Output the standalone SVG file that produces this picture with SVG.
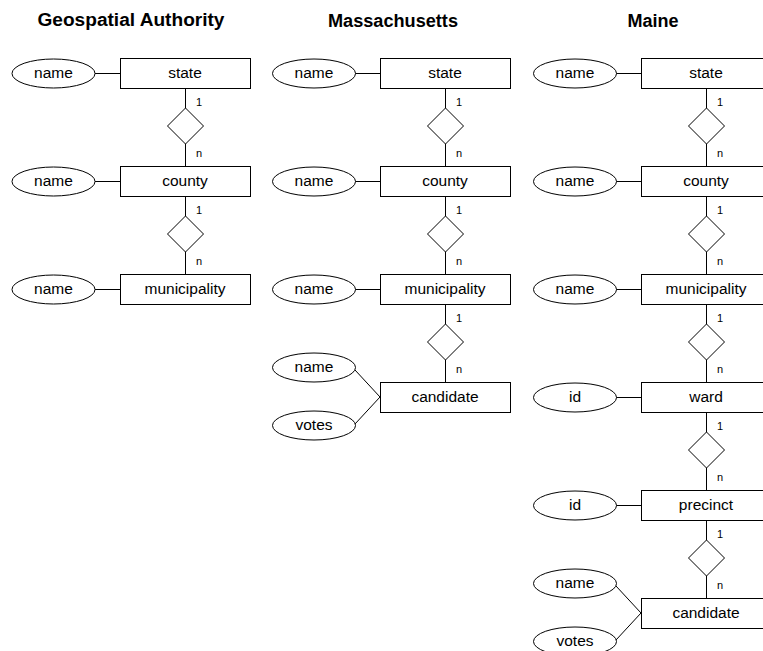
<svg xmlns="http://www.w3.org/2000/svg" width="763" height="651" viewBox="0 0 763 651">
<style>
.ent{fill:#fff;stroke:#000;stroke-width:1}
.att{fill:#fff;stroke:#000;stroke-width:1}
.rel{fill:#fff;stroke:#000;stroke-width:1}
.c{stroke:#000;stroke-width:1;fill:none}
text{font-family:"Liberation Sans",Arial,sans-serif;fill:#000}
.t{font-size:15.5px;text-anchor:middle}
.h{font-size:17.5px;font-weight:bold;text-anchor:middle}
.card{font-size:11px}
</style>
<rect width="763" height="651" fill="#fff"/>
<g id="titles">
<text class="h" x="131" y="26" textLength="187" lengthAdjust="spacingAndGlyphs">Geospatial Authority</text>
<text class="h" x="393" y="27" textLength="130" lengthAdjust="spacingAndGlyphs">Massachusetts</text>
<text class="h" x="653" y="27" textLength="51" lengthAdjust="spacingAndGlyphs">Maine</text>
</g>
<g id="connectors">
<!-- column 1 -->
<line class="c" x1="95" y1="73.5" x2="120" y2="73.5"/>
<line class="c" x1="95" y1="181.5" x2="120" y2="181.5"/>
<line class="c" x1="95" y1="289.5" x2="120" y2="289.5"/>
<line class="c" x1="185.5" y1="88" x2="185.5" y2="108"/>
<line class="c" x1="185.5" y1="144" x2="185.5" y2="166"/>
<line class="c" x1="185.5" y1="196" x2="185.5" y2="216"/>
<line class="c" x1="185.5" y1="252" x2="185.5" y2="274"/>
<!-- column 2 -->
<line class="c" x1="355" y1="73.5" x2="380" y2="73.5"/>
<line class="c" x1="355" y1="181.5" x2="380" y2="181.5"/>
<line class="c" x1="355" y1="289.5" x2="380" y2="289.5"/>
<line class="c" x1="445.5" y1="88" x2="445.5" y2="108"/>
<line class="c" x1="445.5" y1="144" x2="445.5" y2="166"/>
<line class="c" x1="445.5" y1="196" x2="445.5" y2="216"/>
<line class="c" x1="445.5" y1="252" x2="445.5" y2="274"/>
<line class="c" x1="445.5" y1="304" x2="445.5" y2="324"/>
<line class="c" x1="445.5" y1="360" x2="445.5" y2="382"/>
<line class="c" x1="355" y1="370" x2="380" y2="397"/>
<line class="c" x1="355" y1="424" x2="380" y2="397"/>
<!-- column 3 -->
<line class="c" x1="616" y1="73.5" x2="641" y2="73.5"/>
<line class="c" x1="616" y1="181.5" x2="641" y2="181.5"/>
<line class="c" x1="616" y1="289.5" x2="641" y2="289.5"/>
<line class="c" x1="616" y1="397.5" x2="641" y2="397.5"/>
<line class="c" x1="616" y1="505.5" x2="641" y2="505.5"/>
<line class="c" x1="706.5" y1="88" x2="706.5" y2="108"/>
<line class="c" x1="706.5" y1="144" x2="706.5" y2="166"/>
<line class="c" x1="706.5" y1="196" x2="706.5" y2="216"/>
<line class="c" x1="706.5" y1="252" x2="706.5" y2="274"/>
<line class="c" x1="706.5" y1="304" x2="706.5" y2="324"/>
<line class="c" x1="706.5" y1="360" x2="706.5" y2="382"/>
<line class="c" x1="706.5" y1="412" x2="706.5" y2="432"/>
<line class="c" x1="706.5" y1="468" x2="706.5" y2="490"/>
<line class="c" x1="706.5" y1="520" x2="706.5" y2="540"/>
<line class="c" x1="706.5" y1="576" x2="706.5" y2="598"/>
<line class="c" x1="616" y1="586" x2="641" y2="613"/>
<line class="c" x1="616" y1="640" x2="641" y2="613"/>
</g>
<g id="cardinalities">
<text class="card" x="196" y="106">1</text><text class="card" x="196" y="157">n</text>
<text class="card" x="196" y="214">1</text><text class="card" x="196" y="265">n</text>
<text class="card" x="456" y="106">1</text><text class="card" x="456" y="157">n</text>
<text class="card" x="456" y="214">1</text><text class="card" x="456" y="265">n</text>
<text class="card" x="456" y="322">1</text><text class="card" x="456" y="373">n</text>
<text class="card" x="717" y="106">1</text><text class="card" x="717" y="157">n</text>
<text class="card" x="717" y="214">1</text><text class="card" x="717" y="265">n</text>
<text class="card" x="717" y="322">1</text><text class="card" x="717" y="373">n</text>
<text class="card" x="717" y="430">1</text><text class="card" x="717" y="481">n</text>
<text class="card" x="717" y="538">1</text><text class="card" x="717" y="589">n</text>
</g>
<!-- Column 1: Geospatial Authority -->
<g id="ga-state"><rect class="ent" x="120.5" y="58.5" width="130" height="30"/><text class="t" x="185" y="78">state</text></g>
<g id="ga-state-name"><ellipse class="att" cx="53.5" cy="73.5" rx="41.5" ry="14.5"/><text class="t" x="53.5" y="78">name</text></g>
<g id="ga-rel1"><polygon class="rel" points="185.5,108 203.5,126 185.5,144 167.5,126"/></g>
<g id="ga-county"><rect class="ent" x="120.5" y="166.5" width="130" height="30"/><text class="t" x="185" y="186">county</text></g>
<g id="ga-county-name"><ellipse class="att" cx="53.5" cy="181.5" rx="41.5" ry="14.5"/><text class="t" x="53.5" y="186">name</text></g>
<g id="ga-rel2"><polygon class="rel" points="185.5,216 203.5,234 185.5,252 167.5,234"/></g>
<g id="ga-municipality"><rect class="ent" x="120.5" y="274.5" width="130" height="30"/><text class="t" x="185" y="294">municipality</text></g>
<g id="ga-municipality-name"><ellipse class="att" cx="53.5" cy="289.5" rx="41.5" ry="14.5"/><text class="t" x="53.5" y="294">name</text></g>
<!-- Column 2: Massachusetts -->
<g id="ma-state"><rect class="ent" x="380.5" y="58.5" width="130" height="30"/><text class="t" x="445" y="78">state</text></g>
<g id="ma-state-name"><ellipse class="att" cx="314" cy="73.5" rx="41.5" ry="14.5"/><text class="t" x="314" y="78">name</text></g>
<g id="ma-rel1"><polygon class="rel" points="445.5,108 463.5,126 445.5,144 427.5,126"/></g>
<g id="ma-county"><rect class="ent" x="380.5" y="166.5" width="130" height="30"/><text class="t" x="445" y="186">county</text></g>
<g id="ma-county-name"><ellipse class="att" cx="314" cy="181.5" rx="41.5" ry="14.5"/><text class="t" x="314" y="186">name</text></g>
<g id="ma-rel2"><polygon class="rel" points="445.5,216 463.5,234 445.5,252 427.5,234"/></g>
<g id="ma-municipality"><rect class="ent" x="380.5" y="274.5" width="130" height="30"/><text class="t" x="445" y="294">municipality</text></g>
<g id="ma-municipality-name"><ellipse class="att" cx="314" cy="289.5" rx="41.5" ry="14.5"/><text class="t" x="314" y="294">name</text></g>
<g id="ma-rel3"><polygon class="rel" points="445.5,324 463.5,342 445.5,360 427.5,342"/></g>
<g id="ma-candidate"><rect class="ent" x="380.5" y="382.5" width="130" height="30"/><text class="t" x="445" y="402">candidate</text></g>
<g id="ma-candidate-name"><ellipse class="att" cx="314" cy="367.5" rx="41.5" ry="14.5"/><text class="t" x="314" y="372">name</text></g>
<g id="ma-candidate-votes"><ellipse class="att" cx="314" cy="425.5" rx="41.5" ry="14.5"/><text class="t" x="314" y="430">votes</text></g>
<!-- Column 3: Maine -->
<g id="me-state"><rect class="ent" x="641.5" y="58.5" width="130" height="30"/><text class="t" x="706" y="78">state</text></g>
<g id="me-state-name"><ellipse class="att" cx="575" cy="73.5" rx="41.5" ry="14.5"/><text class="t" x="575" y="78">name</text></g>
<g id="me-rel1"><polygon class="rel" points="706.5,108 724.5,126 706.5,144 688.5,126"/></g>
<g id="me-county"><rect class="ent" x="641.5" y="166.5" width="130" height="30"/><text class="t" x="706" y="186">county</text></g>
<g id="me-county-name"><ellipse class="att" cx="575" cy="181.5" rx="41.5" ry="14.5"/><text class="t" x="575" y="186">name</text></g>
<g id="me-rel2"><polygon class="rel" points="706.5,216 724.5,234 706.5,252 688.5,234"/></g>
<g id="me-municipality"><rect class="ent" x="641.5" y="274.5" width="130" height="30"/><text class="t" x="706" y="294">municipality</text></g>
<g id="me-municipality-name"><ellipse class="att" cx="575" cy="289.5" rx="41.5" ry="14.5"/><text class="t" x="575" y="294">name</text></g>
<g id="me-rel3"><polygon class="rel" points="706.5,324 724.5,342 706.5,360 688.5,342"/></g>
<g id="me-ward"><rect class="ent" x="641.5" y="382.5" width="130" height="30"/><text class="t" x="706" y="402">ward</text></g>
<g id="me-ward-id"><ellipse class="att" cx="575" cy="397.5" rx="41.5" ry="14.5"/><text class="t" x="575" y="402">id</text></g>
<g id="me-rel4"><polygon class="rel" points="706.5,432 724.5,450 706.5,468 688.5,450"/></g>
<g id="me-precinct"><rect class="ent" x="641.5" y="490.5" width="130" height="30"/><text class="t" x="706" y="510">precinct</text></g>
<g id="me-precinct-id"><ellipse class="att" cx="575" cy="505.5" rx="41.5" ry="14.5"/><text class="t" x="575" y="510">id</text></g>
<g id="me-rel5"><polygon class="rel" points="706.5,540 724.5,558 706.5,576 688.5,558"/></g>
<g id="me-candidate"><rect class="ent" x="641.5" y="598.5" width="130" height="30"/><text class="t" x="706" y="618">candidate</text></g>
<g id="me-candidate-name"><ellipse class="att" cx="575" cy="583.5" rx="41.5" ry="14.5"/><text class="t" x="575" y="588">name</text></g>
<g id="me-candidate-votes"><ellipse class="att" cx="575" cy="641.5" rx="41.5" ry="14.5"/><text class="t" x="575" y="646">votes</text></g>
</svg>
